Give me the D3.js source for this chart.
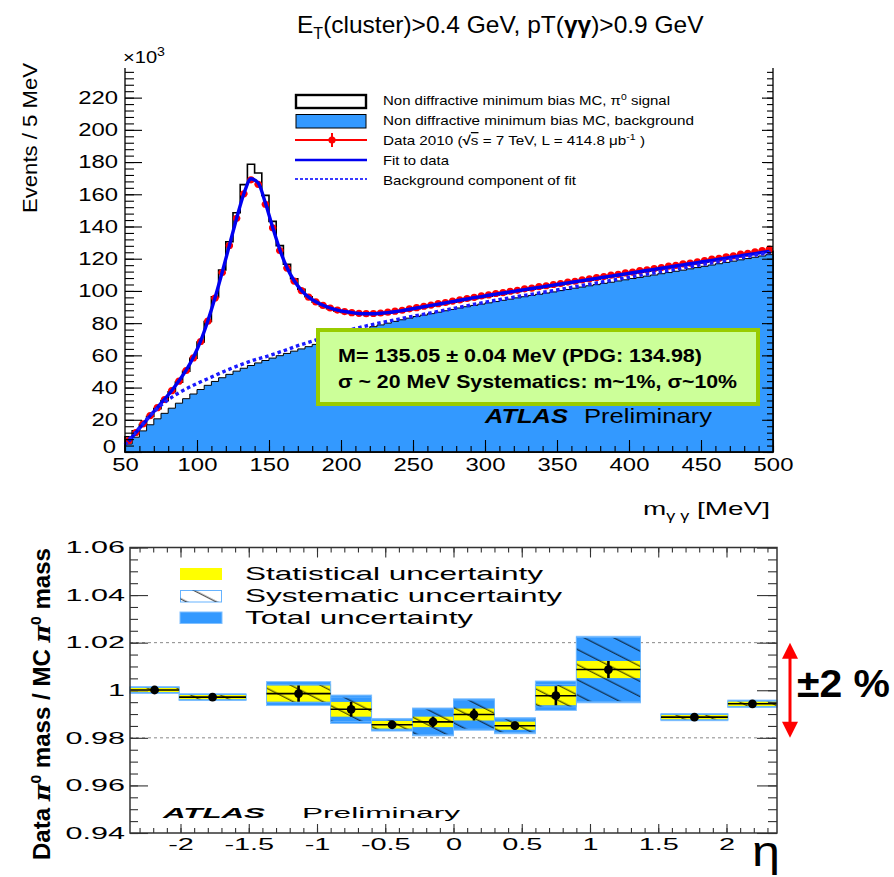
<!DOCTYPE html>
<html><head><meta charset="utf-8">
<script src="https://cdn.jsdelivr.net/npm/d3@7"></script>
<style>
body{margin:0;background:#fff}
svg{display:block}
text{font-family:"Liberation Sans",Arial,Helvetica,sans-serif;fill:#000}
</style>
</head><body>
<svg id="chart" width="894" height="877"></svg>
<script>
// ---------- upper panel: di-photon invariant mass, 5 MeV bins, events in units of 10^3 ----------
const massBinLow = d3.range(50, 500, 5);
const dataEvents = [
  7.0, 12.1, 17.4, 22.6, 27.5, 32.6, 38.1, 44.0, 50.6, 58.4,
  68.6, 81.2, 95.6, 111.4, 128.2, 145.1, 160.3, 169.0, 166.2, 153.8,
  139.2, 125.1, 114.2, 106.1, 100.2, 96.1, 93.2, 91.0, 89.4, 88.1,
  87.2, 86.5, 86.1, 85.9, 86.0, 86.3, 86.8, 87.4, 88.0, 88.9,
  89.6, 90.5, 91.2, 92.1, 92.8, 93.7, 94.4, 95.3, 96.0, 96.9,
  97.5, 98.4, 99.0, 99.8, 100.4, 101.3, 101.8, 102.7, 103.2, 104.0,
  104.6, 105.5, 106.0, 106.9, 107.5, 108.3, 108.9, 109.8, 110.3, 111.2,
  111.7, 112.6, 113.1, 113.9, 114.5, 115.4, 115.9, 116.8, 117.3, 118.1,
  118.8, 119.7, 120.3, 121.2, 121.8, 122.8, 123.4, 124.3, 125.0, 126.0
];
const mcTotalEvents = [
  9.5, 13.2, 17.1, 22.0, 26.9, 32.0, 37.4, 43.4, 50.1, 58.2,
  68.3, 81.0, 96.3, 113.0, 130.5, 148.5, 166.0, 178.6, 173.2, 159.3,
  143.2, 128.1, 116.6, 107.6, 101.0, 96.4, 93.0, 90.6, 88.9, 87.6,
  86.7, 86.0, 85.6, 85.5, 85.6, 85.9, 86.3, 86.9, 87.5, 88.3,
  89.0, 89.8, 90.6, 91.4, 92.1, 93.0, 93.7, 94.5, 95.2, 96.0,
  96.7, 97.5, 98.2, 98.9, 99.6, 100.4, 101.0, 101.8, 102.4, 103.2,
  103.8, 104.6, 105.2, 106.0, 106.6, 107.4, 108.1, 108.8, 109.5, 110.2,
  110.9, 111.7, 112.3, 113.1, 113.7, 114.5, 115.1, 115.9, 116.5, 117.3,
  118.0, 118.8, 119.5, 120.3, 121.0, 121.8, 122.5, 123.3, 124.0, 124.6
];
const mcBackgroundEvents = [
  5.0, 9.2, 13.1, 16.9, 20.6, 24.0, 27.2, 30.3, 33.1, 36.0,
  38.8, 41.4, 43.8, 46.1, 48.2, 50.2, 52.0, 53.7, 55.3, 56.8,
  58.3, 59.8, 61.2, 62.6, 64.0, 65.4, 66.8, 68.2, 69.6, 71.0,
  72.6, 74.0, 75.3, 76.6, 77.8, 78.9, 80.0, 81.1, 82.1, 83.1,
  84.1, 85.0, 85.9, 86.8, 87.7, 88.5, 89.4, 90.2, 91.0, 91.8,
  92.6, 93.4, 94.2, 94.9, 95.7, 96.4, 97.2, 97.9, 98.7, 99.4,
  100.2, 100.9, 101.7, 102.4, 103.2, 103.9, 104.7, 105.4, 106.2, 106.9,
  107.7, 108.4, 109.2, 109.9, 110.7, 111.4, 112.2, 112.9, 113.7, 114.5,
  115.3, 116.1, 116.9, 117.7, 118.5, 119.3, 120.1, 120.9, 121.7, 122.5
];
const fitEvents = [
  6.5, 12.0, 17.3, 22.5, 27.6, 32.8, 38.2, 44.2, 50.8, 58.8,
  68.8, 81.3, 95.7, 111.6, 128.3, 145.0, 160.2, 169.6, 167.0, 154.6,
  139.6, 125.6, 114.4, 106.3, 100.4, 96.2, 93.3, 91.1, 89.4, 88.1,
  87.2, 86.5, 86.0, 85.8, 85.8, 86.1, 86.5, 87.1, 87.8, 88.6,
  89.4, 90.2, 91.0, 91.8, 92.6, 93.4, 94.2, 95.0, 95.8, 96.5,
  97.3, 98.0, 98.7, 99.4, 100.1, 100.8, 101.5, 102.2, 102.9, 103.6,
  104.3, 105.0, 105.7, 106.4, 107.1, 107.8, 108.5, 109.2, 109.9, 110.6,
  111.3, 112.0, 112.7, 113.4, 114.1, 114.8, 115.5, 116.2, 116.9, 117.6,
  118.3, 119.0, 119.7, 120.4, 121.1, 121.8, 122.5, 123.2, 123.9, 124.6
];
const bgFitMass   = [50, 55, 60, 70, 80, 90, 100, 110, 120, 130, 140, 150, 160, 170, 180, 190, 200, 220, 240, 260, 280, 300, 350, 400, 450, 500];
const bgFitEvents = [4.5, 10, 15, 25, 32.5, 38, 42.5, 46.5, 50.5, 54, 57.2, 59.8, 62.8, 66, 68.8, 71.6, 74.3, 78.8, 82.5, 86, 89.5, 93, 100.6, 108.5, 116.2, 124.2];
const massTicks  = [50, 100, 150, 200, 250, 300, 350, 400, 450, 500];
const eventTicks = [0, 20, 40, 60, 80, 100, 120, 140, 160, 180, 200, 220];

// ---------- lower panel: data / MC pi0 mass ratio in eta bins ----------
const etaLow   = [-2.37, -2.01, -1.37, -0.9, -0.6, -0.3, 0.0, 0.3, 0.6, 0.9, 1.52, 2.01];
const etaHigh  = [-2.01, -1.52, -0.9, -0.6, -0.3, 0.0, 0.3, 0.6, 0.9, 1.37, 2.01, 2.37];
const massRatio = [1.0001, 0.9971, 0.9986, 0.9920, 0.9855, 0.9867, 0.9898, 0.9851, 0.9977, 1.0087, 0.9887, 0.9943];
const statErr   = [0.0009, 0.0009, 0.0034, 0.0031, 0.0016, 0.0022, 0.0025, 0.0017, 0.0040, 0.0036, 0.0010, 0.0011];
const systErr   = [0.0011, 0.0011, 0.0037, 0.0051, 0.0021, 0.0054, 0.0061, 0.0029, 0.0047, 0.0135, 0.0011, 0.0011];
const etaTicks   = [-2, -1.5, -1, -0.5, 0, 0.5, 1, 1.5, 2];
const ratioTicks = [0.94, 0.96, 0.98, 1, 1.02, 1.04, 1.06];

const BLUE = "#3399ff", FIT_BLUE = "#0000f0", RED = "#ff0000", YELLOW = "#ffff00";

const svg = d3.select("#chart");
const defs = svg.append("defs");

// text helpers: widen glyphs to a target width
function widen(sel, sx) {
  sel.each(function () {
    const w = this.getComputedTextLength();
    d3.select(this).attr("textLength", w * sx).attr("lengthAdjust", "spacingAndGlyphs");
  });
  return sel;
}
function fitWidth(sel, w) {
  return sel.attr("textLength", w).attr("lengthAdjust", "spacingAndGlyphs");
}
function minorValues(lo, hi, step) { return d3.range(lo, hi + step / 2, step); }

// ========== upper panel ==========
const x1 = d3.scaleLinear().domain([50, 500]).range([125, 773]);
const y1 = d3.scaleLinear().domain([0, 238.4]).range([452, 68]);
const upper = svg.append("g");

const histPts = vals => massBinLow.map((m, i) => [m, vals[i]]).concat([[500, vals[vals.length - 1]]]);
const stepArea = d3.area().x(d => x1(d[0])).y0(y1(0)).y1(d => y1(d[1])).curve(d3.curveStepAfter);

// MC signal + background outline
upper.append("path").attr("d", stepArea(histPts(mcTotalEvents)))
  .attr("fill", "#fff").attr("stroke", "#000").attr("stroke-width", 1.6);
// MC background, filled
upper.append("path").attr("d", stepArea(histPts(mcBackgroundEvents)))
  .attr("fill", BLUE).attr("stroke", "#000").attr("stroke-width", 1);

// data points with bin-width bars
const centers = massBinLow.map(m => m + 2.5);
const dataG = upper.append("g");
dataG.selectAll("line").data(dataEvents).join("line")
  .attr("x1", (d, i) => x1(massBinLow[i])).attr("x2", (d, i) => x1(massBinLow[i] + 5))
  .attr("y1", d => y1(d)).attr("y2", d => y1(d))
  .attr("stroke", RED).attr("stroke-width", 2.4);
dataG.selectAll("circle").data(dataEvents).join("circle")
  .attr("cx", (d, i) => x1(centers[i])).attr("cy", d => y1(d)).attr("r", 3.6).attr("fill", RED);

// fit and its background component
upper.append("path")
  .attr("d", d3.line().x((d, i) => x1(centers[i])).y(d => y1(d)).curve(d3.curveMonotoneX)(fitEvents))
  .attr("fill", "none").attr("stroke", FIT_BLUE).attr("stroke-width", 3.4);
upper.append("path")
  .attr("d", d3.line().x((d, i) => x1(bgFitMass[i])).y(d => y1(d)).curve(d3.curveMonotoneX)(bgFitEvents))
  .attr("fill", "none").attr("stroke", "#1a1aff").attr("stroke-width", 3.4).attr("stroke-dasharray", "3.5,3");

// axes (ticks inside the frame)
const ax = upper.append("g");
ax.append("g").attr("transform", `translate(125,0)`)
  .call(d3.axisLeft(y1).tickValues(minorValues(0, 236, 4)).tickSize(-9).tickFormat(""));
const yMajor = ax.append("g").attr("transform", `translate(125,0)`)
  .call(d3.axisLeft(y1).tickValues(eventTicks).tickSize(-17).tickPadding(7));
ax.append("g").attr("transform", `translate(773,0)`)
  .call(d3.axisRight(y1).tickValues(minorValues(0, 236, 4)).tickSize(-6).tickFormat(""));
ax.append("g").attr("transform", `translate(773,0)`)
  .call(d3.axisRight(y1).tickValues(eventTicks).tickSize(-11).tickFormat(""));
ax.append("g").attr("transform", `translate(0,452)`)
  .call(d3.axisBottom(x1).tickValues(minorValues(50, 500, 10)).tickSize(-6).tickFormat(""));
const xMajor = ax.append("g").attr("transform", `translate(0,452)`)
  .call(d3.axisBottom(x1).tickValues(massTicks).tickSize(-12).tickPadding(6));
ax.selectAll(".domain").remove();
ax.selectAll(".tick line").attr("stroke", "#000").attr("stroke-width", 1.1);
ax.selectAll("text").attr("font-family", "Liberation Sans, Arial, sans-serif").attr("fill", "#000");
yMajor.selectAll("text").attr("font-size", 18.5).call(widen, 1.29);
// the zero label sits just above the mass labels
yMajor.selectAll("text").filter(d => d === 0).attr("dy", "0.05em").attr("x", -9);
xMajor.selectAll("text").attr("font-size", 18.5).call(widen, 1.29);
// frame
upper.append("path").attr("d", `M125,68V452H773V68`).attr("fill", "none").attr("stroke", "#000").attr("stroke-width", 1.3);

// axis titles
const mult = upper.append("text").attr("x", 123).attr("y", 63).attr("font-size", 17);
mult.append("tspan").text("×10");
mult.append("tspan").attr("dy", -7).attr("font-size", 12).text("3");
fitWidth(mult, 42);
upper.append("text").attr("transform", "translate(37,138) rotate(-90)")
  .attr("text-anchor", "middle").attr("font-size", 21)
  .text("Events / 5 MeV").call(fitWidth, 150);
const xt = upper.append("text").attr("x", 643).attr("y", 515).attr("font-size", 18.5);
xt.append("tspan").text("m");
xt.append("tspan").attr("dy", 5).attr("font-size", 12).text("γ γ");
xt.append("tspan").attr("dy", -5).text(" [MeV]");
fitWidth(xt, 127);

// title
const title = svg.append("text").attr("x", 297).attr("y", 33).attr("font-size", 24.5);
title.append("tspan").text("E");
title.append("tspan").attr("dy", 6).attr("font-size", 16).text("T");
title.append("tspan").attr("dy", -6).text("(cluster)>0.4 GeV, pT(");
title.append("tspan").attr("font-weight", "bold").text("γγ");
title.append("tspan").text(")>0.9 GeV");

// result box
const box = upper.append("g");
box.append("rect").attr("x", 318).attr("y", 330).attr("width", 440).attr("height", 74)
  .attr("fill", "#ccff99").attr("stroke", "#99cc00").attr("stroke-width", 4);
box.append("text").attr("x", 338).attr("y", 362).attr("font-size", 19).attr("font-weight", "bold")
  .text("M= 135.05 ± 0.04 MeV (PDG: 134.98)").call(fitWidth, 364);
box.append("text").attr("x", 338).attr("y", 388).attr("font-size", 19).attr("font-weight", "bold")
  .text("σ ~ 20 MeV Systematics: m~1%, σ~10%").call(fitWidth, 399);
upper.append("text").attr("x", 485).attr("y", 423).attr("font-size", 21)
  .attr("font-weight", "bold").attr("font-style", "italic").text("ATLAS").call(fitWidth, 83);
upper.append("text").attr("x", 584).attr("y", 423).attr("font-size", 21)
  .text("Preliminary").call(fitWidth, 128);

// legend
const lg = upper.append("g");
lg.append("rect").attr("x", 296).attr("y", 95).attr("width", 70).attr("height", 13)
  .attr("fill", "#fff").attr("stroke", "#000").attr("stroke-width", 2.4);
lg.append("rect").attr("x", 296).attr("y", 114.5).attr("width", 70).attr("height", 13.5)
  .attr("fill", BLUE).attr("stroke", "#000").attr("stroke-width", 1);
lg.append("line").attr("x1", 295).attr("x2", 367).attr("y1", 140).attr("y2", 140).attr("stroke", RED).attr("stroke-width", 2);
lg.append("line").attr("x1", 332).attr("x2", 332).attr("y1", 133).attr("y2", 147).attr("stroke", RED).attr("stroke-width", 2);
lg.append("circle").attr("cx", 332).attr("cy", 140).attr("r", 3.6).attr("fill", RED);
lg.append("line").attr("x1", 295).attr("x2", 367).attr("y1", 160).attr("y2", 160).attr("stroke", FIT_BLUE).attr("stroke-width", 2.4);
lg.append("line").attr("x1", 295).attr("x2", 367).attr("y1", 179).attr("y2", 179).attr("stroke", "#3a3aff")
  .attr("stroke-width", 2).attr("stroke-dasharray", "3,2");
const legendRows = [
  { y: 105, w: 287 }, { y: 124.5, w: 311 }, { y: 145, w: 262 }, { y: 165, w: 66 }, { y: 184.5, w: 193 }
];
const lt = legendRows.map(r => lg.append("text").attr("x", 383).attr("y", r.y).attr("font-size", 13));
lt[0].append("tspan").text("Non diffractive minimum bias MC, π");
lt[0].append("tspan").attr("dy", -5).attr("font-size", 9).text("0");
lt[0].append("tspan").attr("dy", 5).text(" signal");
lt[1].text("Non diffractive minimum bias MC, background");
lt[2].append("tspan").text("Data 2010 (");
lt[2].append("tspan").attr("font-weight", "bold").text("√");
lt[2].append("tspan").attr("text-decoration", "overline").text("s");
lt[2].append("tspan").text(" = 7 TeV, L = 414.8 μb");
lt[2].append("tspan").attr("dy", -5).attr("font-size", 9).text("-1");
lt[2].append("tspan").attr("dy", 5).text(" )");
lt[3].text("Fit to data");
lt[4].text("Background component of fit");
lt.forEach((t, i) => fitWidth(t, legendRows[i].w));

// ========== lower panel ==========
const x2 = d3.scaleLinear().domain([-2.37, 2.37]).range([130, 777]);
const y2 = d3.scaleLinear().domain([0.94, 1.06]).range([833, 547.5]);
const lower = svg.append("g");

// hatch pattern for the systematic band
defs.append("pattern").attr("id", "hatch").attr("patternUnits", "userSpaceOnUse")
  .attr("width", 40).attr("height", 13.5).attr("patternTransform", "rotate(27)")
  .append("line").attr("x1", 0).attr("x2", 40).attr("y1", 6).attr("y2", 6)
  .attr("stroke", "#000").attr("stroke-width", 0.9);

// reference lines at +-2%
lower.selectAll("line.ref").data([0.98, 1.02]).join("line").attr("class", "ref")
  .attr("x1", 130).attr("x2", 777).attr("y1", d => y2(d)).attr("y2", d => y2(d))
  .attr("stroke", "#888").attr("stroke-width", 1).attr("stroke-dasharray", "3,3");

const bins = massRatio.map((v, i) => ({
  lo: etaLow[i], hi: etaHigh[i], v, stat: statErr[i], syst: systErr[i],
  tot: Math.sqrt(statErr[i] ** 2 + systErr[i] ** 2)
}));
const bandRect = (sel, key) => sel
  .attr("x", d => x2(d.lo)).attr("width", d => x2(d.hi) - x2(d.lo))
  .attr("y", d => y2(d.v + d[key])).attr("height", d => y2(d.v - d[key]) - y2(d.v + d[key]));

lower.append("g").selectAll("rect").data(bins).join("rect").call(bandRect, "tot")
  .attr("fill", BLUE).attr("stroke", "#80c0ff").attr("stroke-width", 1);
lower.append("g").selectAll("rect").data(bins).join("rect").call(bandRect, "stat")
  .attr("fill", YELLOW);
lower.append("g").selectAll("rect").data(bins).join("rect").call(bandRect, "syst")
  .attr("fill", "url(#hatch)").attr("stroke", "#66b3ff").attr("stroke-width", 0.8);

const pts = lower.append("g");
pts.selectAll("line.h").data(bins).join("line").attr("class", "h")
  .attr("x1", d => x2(d.lo)).attr("x2", d => x2(d.hi)).attr("y1", d => y2(d.v)).attr("y2", d => y2(d.v))
  .attr("stroke", "#000").attr("stroke-width", 1.6);
pts.selectAll("line.v").data(bins).join("line").attr("class", "v")
  .attr("x1", d => x2((d.lo + d.hi) / 2)).attr("x2", d => x2((d.lo + d.hi) / 2))
  .attr("y1", d => y2(d.v + d.stat)).attr("y2", d => y2(d.v - d.stat))
  .attr("stroke", "#000").attr("stroke-width", 2.6);
pts.selectAll("circle").data(bins).join("circle")
  .attr("cx", d => x2((d.lo + d.hi) / 2)).attr("cy", d => y2(d.v)).attr("r", 4.4).attr("fill", "#000");

// axes
const bx = lower.append("g");
bx.append("g").attr("transform", "translate(130,0)")
  .call(d3.axisLeft(y2).tickValues(minorValues(0.94, 1.06, 0.005)).tickSize(-8).tickFormat(""));
const byMajor = bx.append("g").attr("transform", "translate(130,0)")
  .call(d3.axisLeft(y2).tickValues(ratioTicks).tickSize(-18).tickPadding(5).tickFormat(d => String(+d.toFixed(2))));
bx.append("g").attr("transform", "translate(777,0)")
  .call(d3.axisRight(y2).tickValues(minorValues(0.94, 1.06, 0.005)).tickSize(-9).tickFormat(""));
bx.append("g").attr("transform", "translate(777,0)")
  .call(d3.axisRight(y2).tickValues(ratioTicks).tickSize(-20).tickFormat(""));
bx.append("g").attr("transform", "translate(0,833)")
  .call(d3.axisBottom(x2).tickValues(minorValues(-2.3, 2.3, 0.1)).tickSize(-5).tickFormat(""));
const bxMajor = bx.append("g").attr("transform", "translate(0,833)")
  .call(d3.axisBottom(x2).tickValues(etaTicks).tickSize(-9).tickPadding(5).tickFormat(d => String(d)));
bx.append("g").attr("transform", "translate(0,547.5)")
  .call(d3.axisTop(x2).tickValues(minorValues(-2.3, 2.3, 0.1)).tickSize(-5).tickFormat(""));
bx.append("g").attr("transform", "translate(0,547.5)")
  .call(d3.axisTop(x2).tickValues(etaTicks).tickSize(-10).tickFormat(""));
bx.selectAll(".domain").remove();
bx.selectAll(".tick line").attr("stroke", "#333").attr("stroke-width", 1.1);
bx.selectAll("text").attr("font-family", "Liberation Sans, Arial, sans-serif").attr("fill", "#000");
byMajor.selectAll("text").attr("font-size", 16.5).call(widen, 1.85);
bxMajor.selectAll("text").attr("font-size", 16.5).call(widen, 1.75);
lower.append("rect").attr("x", 130).attr("y", 547.5).attr("width", 647).attr("height", 285.5)
  .attr("fill", "none").attr("stroke", "#333").attr("stroke-width", 1.5);

// legend
const bl = lower.append("g");
bl.append("rect").attr("x", 180).attr("y", 568).attr("width", 42).attr("height", 12).attr("fill", YELLOW);
bl.append("rect").attr("x", 180.5).attr("y", 590.5).attr("width", 41).attr("height", 11.5)
  .attr("fill", "#fff").attr("stroke", "#66b3ff").attr("stroke-width", 1);
bl.append("rect").attr("x", 180.5).attr("y", 590.5).attr("width", 41).attr("height", 11.5)
  .attr("fill", "url(#hatch)");
bl.append("rect").attr("x", 180).attr("y", 612).attr("width", 42).attr("height", 11.5)
  .attr("fill", BLUE).attr("stroke", "#80c0ff").attr("stroke-width", 1);
[["Statistical uncertainty", 580, 298], ["Systematic uncertainty", 602, 317], ["Total uncertainty", 623.5, 228]]
  .forEach(([t, y, w]) => bl.append("text").attr("x", 245).attr("y", y).attr("font-size", 19).text(t).call(fitWidth, w));

lower.append("text").attr("x", 163).attr("y", 818).attr("font-size", 15.5)
  .attr("font-weight", "bold").attr("font-style", "italic").text("ATLAS").call(fitWidth, 102);
lower.append("text").attr("x", 302).attr("y", 818).attr("font-size", 15.5)
  .text("Preliminary").call(fitWidth, 158);

// y title
const yt2 = lower.append("text").attr("transform", "translate(50,704) rotate(-90)")
  .attr("text-anchor", "middle").attr("font-size", 23).attr("font-weight", "bold");
yt2.append("tspan").text("Data ");
yt2.append("tspan").attr("font-family", "DejaVu Serif, serif").attr("font-style", "italic").text("π");
yt2.append("tspan").attr("dy", -9).attr("font-size", 15).text("0");
yt2.append("tspan").attr("dy", 9).text(" mass / MC ");
yt2.append("tspan").attr("font-family", "DejaVu Serif, serif").attr("font-style", "italic").text("π");
yt2.append("tspan").attr("dy", -9).attr("font-size", 15).text("0");
yt2.append("tspan").attr("dy", 9).text(" mass");
fitWidth(yt2, 312);

// eta axis symbol
lower.append("text").attr("x", 752).attr("y", 866).attr("font-size", 42)
  .attr("font-family", "Liberation Serif, Times New Roman, serif").text("η").call(fitWidth, 28);

// +-2% marker
const ann = svg.append("g").attr("fill", RED);
ann.append("line").attr("x1", 790).attr("x2", 790).attr("y1", y2(1.02) + 12).attr("y2", y2(0.98) - 12)
  .attr("stroke", RED).attr("stroke-width", 3);
ann.append("path").attr("d", `M790,${y2(1.02)}L782,${y2(1.02) + 16}H798Z`);
ann.append("path").attr("d", `M790,${y2(0.98)}L782,${y2(0.98) - 16}H798Z`);
ann.append("text").attr("x", 797).attr("y", 697).attr("font-size", 38).attr("font-weight", "bold")
  .attr("fill", RED).text("±2 %").call(fitWidth, 93);
</script>
</body></html>
